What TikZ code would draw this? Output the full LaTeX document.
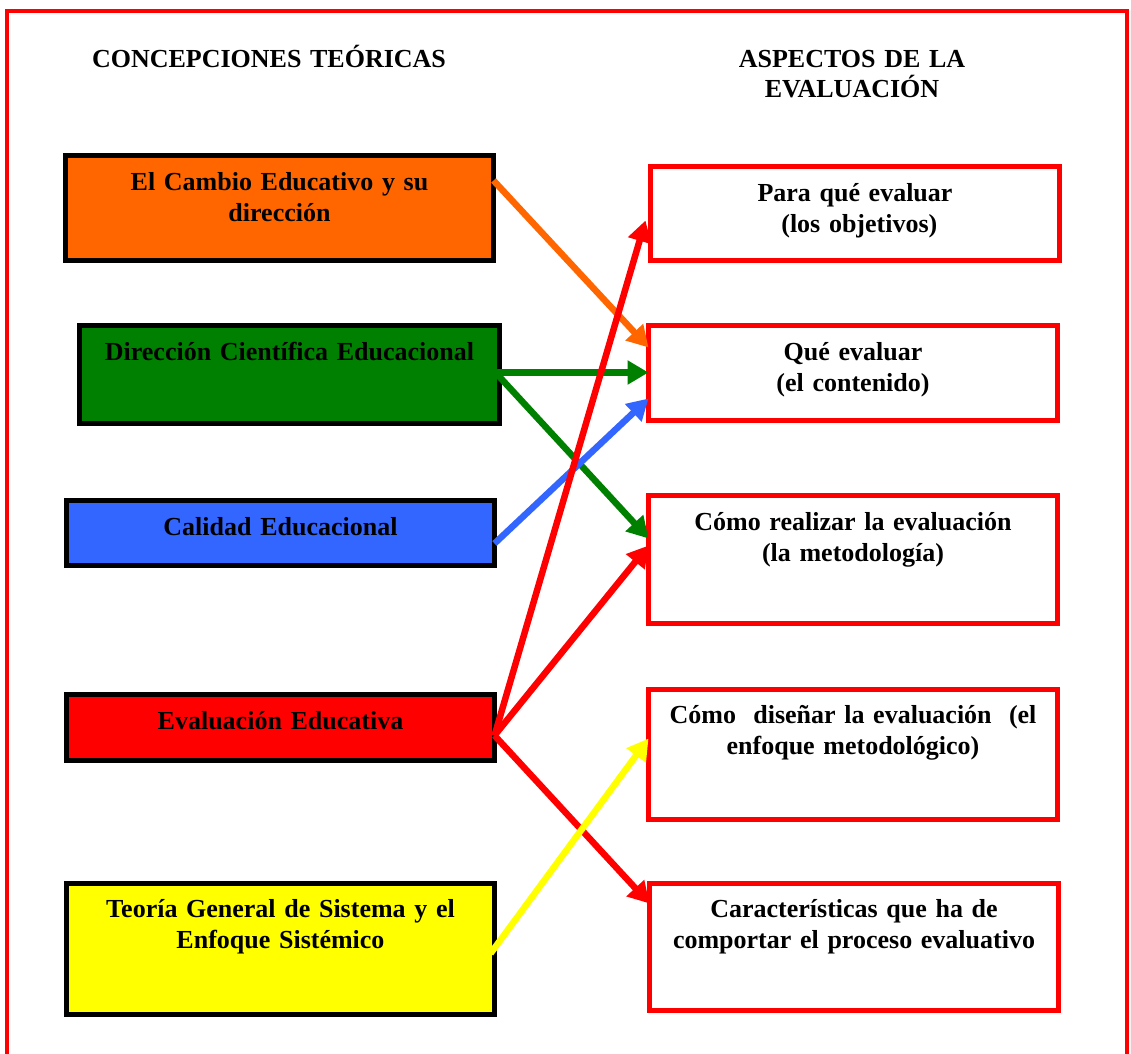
\documentclass[tikz,border=0pt]{standalone}
\usepackage{fontspec}
\setmainfont{Liberation Serif}
\usetikzlibrary{arrows.meta}
\definecolor{cOrange}{HTML}{FF6600}
\definecolor{cGreen}{HTML}{008000}
\definecolor{cBlue}{HTML}{3366FF}
\definecolor{cRed}{HTML}{FF0000}
\definecolor{cYellow}{HTML}{FFFF00}
\begin{document}
\begin{tikzpicture}[x=1pt,y=-1pt,
  lbox/.style={draw=black,line width=5pt,rectangle,inner sep=0pt,outer sep=0pt},
  rbox/.style={draw=cRed,line width=5pt,rectangle,inner sep=0pt,outer sep=0pt,fill=white},
  txt/.style={font=\fontsize{26}{30.5}\selectfont\bfseries,align=center,text width=420pt,inner sep=0pt,anchor=base},
  arr/.style={line width=6.5pt,-{Triangle[length=21pt,width=23pt]}},
  ln/.style={line width=6.5pt}]
\useasboundingbox (0,0) rectangle (1131,1053);
% outer frame (open at the bottom)
\coordinate (fbl) at (7,1060);
\coordinate (ftl) at (7,11);
\coordinate (ftr) at (1127,11);
\coordinate (fbr) at (1127,1060);
\draw[cRed,line width=4.5pt] (fbl) -- (ftl) -- (ftr) -- (fbr);

% headers
\node[txt,text width=500pt] (h1) at (269,67) {CONCEPCIONES TEÓRICAS};
\node[txt,text width=400pt] (h2) at (852,67) {ASPECTOS DE LA\\EVALUACIÓN};

% left boxes
\node[lbox,fill=cOrange,minimum width=428pt,minimum height=105pt] (cambio) at (279.5,208) {};
\node[lbox,fill=cGreen,minimum width=420pt,minimum height=98pt] (direccion) at (289.5,374.5) {};
\node[lbox,fill=cBlue,minimum width=428pt,minimum height=65pt] (calidad) at (280.5,533) {};
\node[lbox,fill=cRed,minimum width=428pt,minimum height=66pt] (evaluacion) at (280.5,727.5) {};
\node[lbox,fill=cYellow,minimum width=428pt,minimum height=131pt] (teoria) at (280.5,949) {};

\node[txt] (tcambio) at ([yshift=-35pt]cambio.north) {El Cambio Educativo y su\\dirección};
\node[txt] (tdireccion) at ([yshift=-35pt]direccion.north) {Dirección Científica Educacional};
\node[txt] (tcalidad) at ([yshift=-35pt]calidad.north) {Calidad Educacional};
\node[txt] (tevaluacion) at ([yshift=-35pt]evaluacion.north) {Evaluación Educativa};
\node[txt] (tteoria) at ([yshift=-34pt]teoria.north) {Teoría General de Sistema y el\\Enfoque Sistémico};

% right boxes
\node[rbox,minimum width=409pt,minimum height=94pt] (para) at (855,213.5) {};
\node[rbox,minimum width=409pt,minimum height=95pt] (que) at (853,373) {};
\node[rbox,minimum width=409pt,minimum height=128pt] (como) at (853,559.5) {};
\node[rbox,minimum width=409pt,minimum height=130pt] (disenar) at (853,754.5) {};
\node[rbox,minimum width=409pt,minimum height=127pt] (carac) at (854,947) {};

\node[txt] (tpara) at ([yshift=-35pt]para.north) {Para qué evaluar\\\ (los objetivos)};
\node[txt] (tque) at ([yshift=-35pt]que.north) {Qué evaluar\\(el contenido)};
\node[txt] (tcomo) at ([yshift=-35pt]como.north) {Cómo realizar la evaluación\\(la metodología)};
\node[txt] (tdisenar) at ([yshift=-34pt]disenar.north) {Cómo\ \ diseñar la evaluación\ \ (el\\enfoque metodológico)};
\node[txt] (tcarac) at ([yshift=-34pt]carac.north) {Características que ha de\\comportar el proceso evaluativo};

% connectors
\draw[arr,cOrange] ([yshift=-25pt]cambio.north east) -- ([yshift=-22pt]que.north west);
\draw[arr,cGreen] ([xshift=-4pt,yshift=-47pt]direccion.north east) -- ([yshift=-47pt]que.north west);
\draw[arr,cGreen] ([xshift=-4pt,yshift=-47pt]direccion.north east) -- ([yshift=-43pt]como.north west);
\draw[arr,cBlue] ([yshift=-43pt]calidad.north east) -- ([yshift=-73pt]que.north west);
\draw[arr,cRed] ([yshift=-41pt]evaluacion.north east) -- ([xshift=-5pt,yshift=-54pt]para.north west);
\draw[arr,cRed] ([yshift=-41pt]evaluacion.north east) -- ([yshift=-50pt]como.north west);
\draw[arr,cRed] ([yshift=-41pt]evaluacion.north east) -- ([yshift=-20pt]carac.north west);
\draw[arr,cYellow] ([xshift=-4pt,yshift=-70pt]teoria.north east) -- ([yshift=-49pt]disenar.north west);
\end{tikzpicture}
\end{document}
